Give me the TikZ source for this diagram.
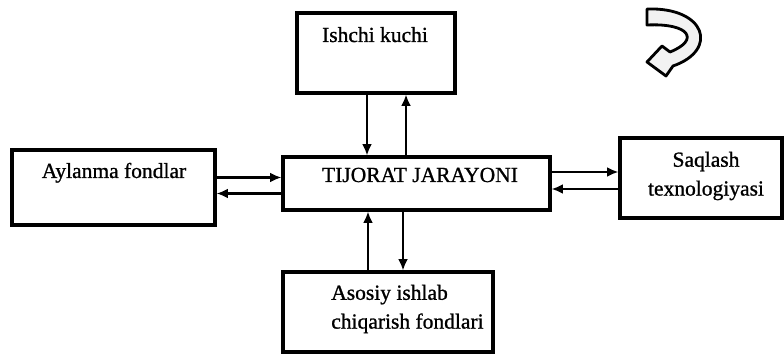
\documentclass[tikz,border=0pt]{standalone}
\usepackage{fontspec}
\setmainfont{Liberation Serif}[FakeBold=1]
\usepackage{tikz}
\usetikzlibrary{arrows.meta}

\tikzset{
    box/.style = {draw, line width=2.2pt, inner sep=0pt},
    txt/.style = {inner sep=0pt, font=\fontsize{15.3}{20.5}\selectfont},
    flow/.style = {-{Latex[length=8pt, width=7pt]}, line width=1.5pt}
}

\begin{document}
\begin{tikzpicture}[x=0.025cm, y=-0.025cm]
    \useasboundingbox (0,0) rectangle (784,354);
	% boxes
    	\node[box, minimum width=3.95cm, minimum height=2cm] (kuchi) at (376,53) {};
    	\node[box, minimum width=6.675cm, minimum height=1.325cm] (jarayon) at (416.5,183.5) {};
    	\node[box, minimum width=5.075cm, minimum height=1.875cm] (aylanma) at (113.5,187.5) {};
    	\node[box, minimum width=4.05cm, minimum height=2cm] (saqlash) at (701,178) {};
    	\node[box, minimum width=5.25cm, minimum height=2cm] (asosiy) at (388,312) {};
	% texts
    	\node[txt, anchor=base] (kuchitxt) at (375,42) {Ishchi kuchi};
    	\node[txt, anchor=base] (jarayontxt) at (420,182) {TIJORAT JARAYONI};
    	\node[txt, anchor=base] (aylanmatxt) at (114,178) {Aylanma fondlar};
    	\node[txt, align=center] (saqlashtxt) at (706,176) {Saqlash\\texnologiyasi};
    	\node[txt, align=left, anchor=west] (asosiytxt) at (331,309) {Asosiy ishlab\\chiqarish fondlari};
	% connectors
    	\draw[flow] ([xshift=-0.225cm]kuchi.south) -- ([xshift=-0.225cm]kuchi.south |- jarayon.north);
    	\draw[flow] ([xshift=0.75cm]kuchi.south |- jarayon.north) -- ([xshift=0.75cm]kuchi.south);
    	\draw[flow] ([xshift=-0.5cm]asosiy.north) -- ([xshift=-0.5cm]asosiy.north |- jarayon.south);
    	\draw[flow] ([xshift=0.375cm]asosiy.north |- jarayon.south) -- ([xshift=0.375cm]asosiy.north);
    	\draw[flow] ([yshift=0.25cm]aylanma.east) -- ([yshift=0.25cm]aylanma.east -| jarayon.west);
    	\draw[flow] ([yshift=-0.15cm]aylanma.east -| jarayon.west) -- ([yshift=-0.15cm]aylanma.east);
    	\draw[flow] ([yshift=0.15cm]saqlash.west -| jarayon.east) -- ([yshift=0.15cm]saqlash.west);
    	\draw[flow] ([yshift=-0.275cm]saqlash.west) -- ([yshift=-0.275cm]saqlash.west -| jarayon.east);
	% curved arrow
    	\draw[line width=2pt, line join=round, fill=gray!10]
    	    (647,9) .. controls (706,7) and (719,50) .. (673,66)
    	    -- (666,76) -- (647,62) -- (662,46) -- (670,52)
    	    .. controls (700,40) and (690,23) .. (647,25) -- cycle;
\end{tikzpicture}
\end{document}
